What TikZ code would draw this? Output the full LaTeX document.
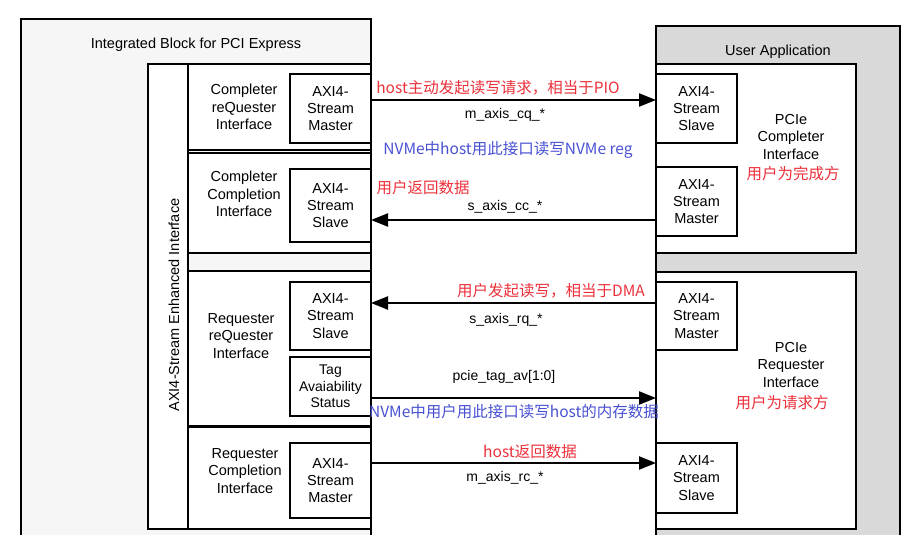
\documentclass[tikz,border=0pt]{standalone}
\usepackage{fontspec}
\setmainfont{Liberation Sans}
\newfontfamily\cjk{Noto Sans CJK SC}
\usetikzlibrary{arrows.meta}
\definecolor{outerfill}{RGB}{246,246,246}
\definecolor{appfill}{RGB}{217,217,217}
\definecolor{annred}{RGB}{236,48,58}
\definecolor{annblue}{RGB}{72,80,210}
\begin{document}
\begin{tikzpicture}[x=1pt,y=-1pt,
  box/.style={draw=black,line width=1.5pt},
  lbl/.style={font=\fontsize{14.5}{17.7}\selectfont, align=center, inner sep=0pt},
  sig/.style={font=\fontsize{14}{17}\selectfont, inner sep=0pt},
  ann/.style={font=\cjk\fontsize{15.5}{18}\selectfont, inner sep=0pt},
  rednote/.style={ann, text=annred},
  bluenote/.style={ann, text=annblue},
  axi/.style={box, fill=white, inner sep=0pt, outer sep=0pt, anchor=north west,
    minimum width=81pt, align=center, font=\fontsize{14.5}{17.3}\selectfont},
  cont/.style={box, fill=white, inner sep=0pt, outer sep=0pt, anchor=north west},
  arr/.style={line width=2.2pt, -{Triangle[length=17pt,width=13pt]}}
]
\useasboundingbox (0,0) rectangle (914,535);
\clip (0,0) rectangle (914,535);
% outer blocks
\node[cont, fill=outerfill, minimum width=350pt, minimum height=530pt] (ib) at (21,19) {};
\node[cont, fill=appfill, minimum width=244pt, minimum height=530pt] (ua) at (656,26) {};
% enhanced interface strip
\node[cont, minimum width=40pt, minimum height=465pt] (strip) at (148,64) {};
% left rows
\node[cont, minimum width=183pt, minimum height=86pt] (row1) at (188,64) {};
\node[cont, minimum width=183pt, minimum height=100pt] (row2) at (188,153) {};
\node[cont, minimum width=183pt, minimum height=155pt] (row3) at (188,271) {};
\node[cont, minimum width=183pt, minimum height=102pt] (row4) at (188,427) {};
% right containers
\node[cont, minimum width=200pt, minimum height=189pt] (pcmp) at (656,64) {};
\node[cont, minimum width=200pt, minimum height=257pt] (preq) at (656,272) {};
% left AXI boxes
\node[axi, minimum height=69pt] (lcq) at (290,74) {AXI4-\\Stream\\Master};
\node[axi, minimum height=73pt] (lcc) at (290,169) {AXI4-\\Stream\\Slave};
\node[axi, minimum height=68pt] (lrq) at (290,282) {AXI4-\\Stream\\Slave};
\node[axi, minimum height=59pt, font=\fontsize{14}{16.5}\selectfont] (ltag) at (290,357) {Tag\\Avaiability\\Status};
\node[axi, minimum height=75pt] (lrc) at (290,443) {AXI4-\\Stream\\Master};
% right AXI boxes
\node[axi, minimum height=69pt] (rcq) at (656,74) {AXI4-\\Stream\\Slave};
\node[axi, minimum height=69pt] (rcc) at (656,167) {AXI4-\\Stream\\Master};
\node[axi, minimum height=68pt] (rrq) at (656,282) {AXI4-\\Stream\\Master};
\node[axi, minimum height=70pt] (rrc) at (656,443) {AXI4-\\Stream\\Slave};
% titles
\node[lbl] (t1) at (196,45) {Integrated Block for PCI Express};
\node[lbl] (t2) at (778,52) {User Application};
\node[lbl, rotate=90] (t3) at (174,305) {AXI4-Stream Enhanced Interface};
\node[lbl] (n1) at (244,107) {Completer\\reQuester\\Interface};
\node[lbl] (n2) at (244,194) {Completer\\Completion\\Interface};
\node[lbl] (n3) at (241,336) {Requester\\reQuester\\Interface};
\node[lbl] (n4) at (245,471) {Requester\\Completion\\Interface};
\node[lbl] (n5) at (791,137) {PCIe\\Completer\\Interface};
\node[lbl] (n6) at (791,365) {PCIe\\Requester\\Interface};
\node[rednote] (r5) at (793,174) {用户为完成方};
\node[rednote] (r6) at (782,403) {用户为请求方};
% connectors
\draw[arr] ([yshift=8.5pt]lcq.east) -- ([yshift=8.5pt]rcq.west);
\coordinate (ccR) at ([yshift=-18.5pt]rcc.west);
\draw[arr] (ccR) -- (ccR -| lcc.east);
\draw[arr] ([yshift=13pt]rrq.west) -- ([yshift=13pt]lrq.east);
\coordinate (tagL) at ([yshift=-11.5pt]ltag.east);
\draw[arr] (tagL) -- (tagL -| preq.west);
\coordinate (rcL) at ([yshift=17.5pt]lrc.east);
\draw[arr] (rcL) -- (rcL -| rrc.west);
% signal labels
\node[sig] (s1) at (505,115) {m\_axis\_cq\_*};
\node[sig] (s2) at (505,207) {s\_axis\_cc\_*};
\node[sig] (s3) at (506,320) {s\_axis\_rq\_*};
\node[sig] (s4) at (504,377) {pcie\_tag\_av[1:0]};
\node[sig] (s5) at (505,478) {m\_axis\_rc\_*};
% annotations
\node[rednote] (a1) at (498,88) {host主动发起读写请求，相当于PIO};
\node[bluenote] (a2) at (508,150) {NVMe中host用此接口读写NVMe reg};
\node[rednote] (a3) at (423,188) {用户返回数据};
\node[rednote] (a4) at (551,291) {用户发起读写，相当于DMA};
\node[bluenote] (a5) at (514,412) {NVMe中用户用此接口读写host的内存数据};
\node[rednote] (a6) at (530,452) {host返回数据};
\end{tikzpicture}
\end{document}
